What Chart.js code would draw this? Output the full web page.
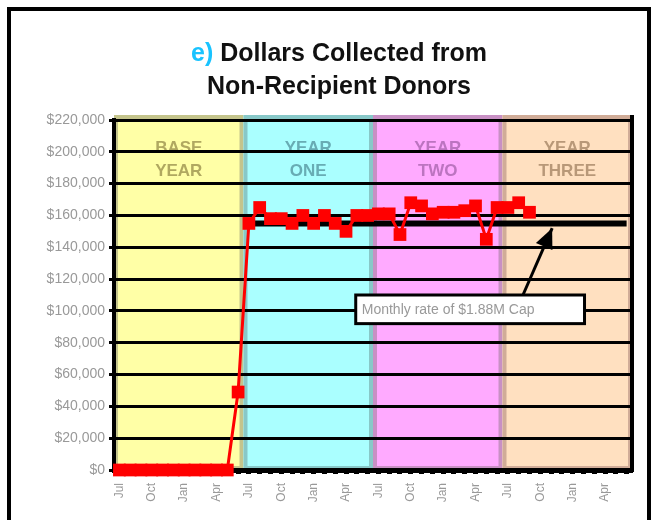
<!DOCTYPE html>
<html>
<head>
<meta charset="utf-8">
<script src="https://cdn.jsdelivr.net/npm/chart.js@4.4.0/dist/chart.umd.min.js"></script>
<style>
  html, body { margin: 0; padding: 0; background: #fff; }
  #wrap { position: relative; width: 660px; height: 520px; overflow: hidden; }
  #frame { position: absolute; left: 7px; top: 7px; width: 636px; height: 600px; border: 4px solid #000; }
  #title {
    position: absolute; left: 18px; width: 642px; top: 36px;
    text-align: center; font: bold 25px Arial, 'Liberation Sans', sans-serif;
    line-height: 33px; color: #111;
  }
  #title .tag { color: #19c3ff; }
  canvas { position: absolute; left: 0; top: 0; }
</style>
</head>
<body>
<div id="wrap">
  <div id="frame"></div>
  <canvas id="chart" width="660" height="520"></canvas>
  <div id="title"><span class="tag">e)</span> Dollars Collected from<br>Non-Recipient Donors</div>
</div>
<script>
const FONT = "Arial, 'Liberation Sans', sans-serif";

// 48 months, quarterly labels shown
const monthNames = ['Jul', 'Aug', 'Sep', 'Oct', 'Nov', 'Dec', 'Jan', 'Feb', 'Mar', 'Apr', 'May', 'Jun'];
const months = [].concat(monthNames, monthNames, monthNames, monthNames);

const yTicks = [0, 20000, 40000, 60000, 80000, 100000, 120000, 140000, 160000, 180000, 200000, 220000];

// dollars collected each month
const collected = [
  0, 0, 0, 0, 0, 0, 0, 0, 0, 0, 0, 49000,
  155000, 165000, 158000, 158000, 155000, 160000, 155000, 160000, 155000, 150000, 160000, 160000,
  161000, 161000, 148000, 168000, 166000, 161000, 162000, 162000, 163000, 166000, 145000, 165000,
  165000, 168000, 162000, null, null, null, null, null, null, null, null, null
];

// monthly rate of the $1.88M cap
const capLine = [
  null, null, null, null, null, null, null, null, null, null, null, null,
  155000, 155000, 155000, 155000, 155000, 155000, 155000, 155000, 155000, 155000, 155000, 155000,
  155000, 155000, 155000, 155000, 155000, 155000, 155000, 155000, 155000, 155000, 155000, 155000,
  155000, 155000, 155000, 155000, 155000, 155000, 155000, 155000, 155000, 155000, 155000, 155000
];

const periods = ['BASE YEAR', 'YEAR ONE', 'YEAR TWO', 'YEAR THREE'];
const bandFill = ['#ffffa6', '#aaffff', '#ffaaff', '#ffe0c0'];
const bandEdge = ['#c4c48c', '#88c8c8', '#c890c4', '#d0ac98'];
const bandText = ['#b0a860', '#68acb4', '#bc74c0', '#b89878'];

const capNote = 'Monthly rate of $1.88M Cap';

// background bands for each year, drawn under the grid
const bandsPlugin = {
  id: 'bands',
  beforeDraw(chart) {
    const { ctx, chartArea: a, scales: { x } } = chart;
    ctx.save();
    periods.forEach((p, k) => {
      const l = k === 0 ? a.left : x.getPixelForValue(12 * k - 0.5);
      const r = k === periods.length - 1 ? a.right : x.getPixelForValue(12 * k + 11.5);
      const top = a.top - 5;
      ctx.fillStyle = bandFill[k];
      ctx.fillRect(l, top, r - l, a.bottom - top);
      ctx.strokeStyle = bandEdge[k];
      ctx.lineWidth = 4;
      ctx.strokeRect(l + 2, top + 2, r - l - 4, a.bottom - top - 4);

      ctx.fillStyle = bandText[k];
      ctx.font = 'bold 17px ' + FONT;
      ctx.textAlign = 'center';
      ctx.textBaseline = 'middle';
      const words = p.split(' ');
      ctx.fillText(words[0], (l + r) / 2, a.top + 28);
      ctx.fillText(words[1], (l + r) / 2, a.top + 51);
    });
    ctx.restore();
  }
};

// right frame of the plot + callout box with arrow
const notePlugin = {
  id: 'note',
  afterDraw(chart) {
    const { ctx, chartArea: a, scales: { x, y } } = chart;
    ctx.save();
    ctx.strokeStyle = '#000';
    ctx.lineWidth = 4;
    ctx.beginPath();
    ctx.moveTo(a.right, a.top - 5);
    ctx.lineTo(a.right, a.bottom + 2);
    ctx.stroke();

    const bx0 = x.getPixelForValue(21.9), bx1 = x.getPixelForValue(43.1);
    const by0 = y.getPixelForValue(110000), by1 = y.getPixelForValue(92000);
    const tail = { x: x.getPixelForValue(37.4), y: by0 };
    const tip = { x: x.getPixelForValue(40.1), y: y.getPixelForValue(152000) };

    ctx.lineWidth = 3;
    ctx.beginPath();
    ctx.moveTo(tail.x, tail.y);
    ctx.lineTo(tip.x, tip.y);
    ctx.stroke();
    const dx = tip.x - tail.x, dy = tip.y - tail.y;
    const len = Math.hypot(dx, dy);
    const ux = dx / len, uy = dy / len;
    const bx = tip.x - ux * 20, by = tip.y - uy * 20;
    ctx.fillStyle = '#000';
    ctx.beginPath();
    ctx.moveTo(tip.x, tip.y);
    ctx.lineTo(bx - uy * 9, by + ux * 9);
    ctx.lineTo(bx + uy * 9, by - ux * 9);
    ctx.closePath();
    ctx.fill();

    ctx.fillStyle = '#fff';
    ctx.fillRect(bx0, by0, bx1 - bx0, by1 - by0);
    ctx.strokeRect(bx0, by0, bx1 - bx0, by1 - by0);
    ctx.fillStyle = '#999';
    ctx.font = '14px ' + FONT;
    ctx.textAlign = 'left';
    ctx.textBaseline = 'middle';
    ctx.fillText(capNote, bx0 + 6, (by0 + by1) / 2 + 1);
    ctx.restore();
  }
};

new Chart(document.getElementById('chart'), {
  type: 'line',
  data: {
    labels: months,
    datasets: [
      {
        label: 'Dollars Collected',
        data: collected,
        borderColor: '#ff0000',
        backgroundColor: '#ff0000',
        borderWidth: 3,
        pointStyle: 'rect',
        pointRadius: 9,
        pointBorderWidth: 0,
        tension: 0,
        clip: false,
        order: 0
      },
      {
        label: 'Cap',
        data: capLine,
        borderColor: '#000',
        borderWidth: 6,
        pointRadius: 0,
        tension: 0,
        order: 1
      }
    ]
  },
  options: {
    responsive: false,
    animation: false,
    layout: { padding: { top: 120, right: 28, bottom: 0, left: 0 } },
    plugins: {
      legend: { display: false },
      tooltip: { enabled: false },
      title: { display: false }
    },
    scales: {
      x: {
        offset: true,
        afterFit: s => { s.height = 50; },
        grid: { drawOnChartArea: false, drawTicks: true, tickLength: 4, tickWidth: 5, tickColor: '#000' },
        border: { display: true, color: '#000', width: 5 },
        ticks: {
          autoSkip: false,
          maxRotation: 90,
          minRotation: 90,
          padding: 9,
          color: '#999',
          font: { size: 12, family: FONT },
          callback: (v, i) => (i % 3 === 0 ? months[i] : '')
        }
      },
      y: {
        min: 0,
        max: 220000,
        afterBuildTicks: s => { s.ticks = yTicks.map(v => ({ value: v })); },
        afterFit: s => { s.width = 114; },
        grid: { color: '#000', lineWidth: 3, tickLength: 5, drawTicks: true },
        border: { color: '#000', width: 4 },
        ticks: {
          color: '#999',
          padding: 4,
          font: { size: 14, family: FONT },
          callback: v => '$' + v.toLocaleString('en-US')
        }
      }
    }
  },
  plugins: [bandsPlugin, notePlugin]
});
</script>
</body>
</html>
